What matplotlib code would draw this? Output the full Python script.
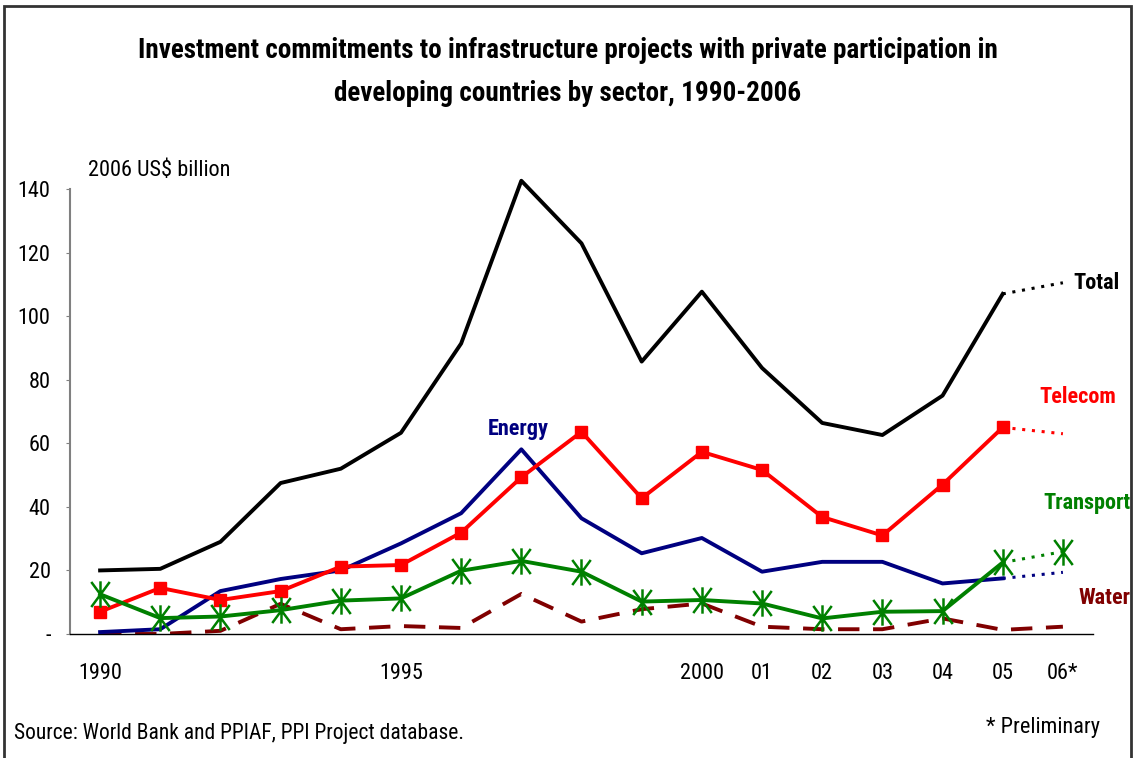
import numpy as np
import matplotlib
matplotlib.use("Agg")
import matplotlib.pyplot as plt
from matplotlib.path import Path
from matplotlib.patches import Rectangle

plt.rcParams['font.family'] = ['Roboto Condensed', 'Liberation Sans', 'DejaVu Sans']

years = np.arange(1990, 2007)
total = [20, 20.5, 29, 47.5, 52, 63.3, 91.4, 142.6, 122.9, 85.7, 107.7, 83.7, 66.4, 62.6, 75, 107, 110.5]
telecom = [7, 14.5, 10.7, 13.5, 21.2, 21.7, 31.9, 49.3, 63.6, 42.7, 57.3, 51.6, 36.8, 31, 47, 65, 63]
energy = [0.6, 1.5, 13.5, 17.3, 20, 28.5, 38, 58.1, 36.4, 25.4, 30.2, 19.6, 22.7, 22.7, 15.9, 17.5, 19.4]
transport = [12.5, 5, 5.5, 7.5, 10.5, 11.2, 19.9, 23, 19.6, 10.2, 10.7, 9.6, 4.9, 7, 7.2, 22.5, 25.9]
water = [0, 0, 1, 9.5, 1.5, 2.5, 1.9, 12.6, 3.9, 7.8, 9.6, 2.3, 1.5, 1.5, 4.9, 1.3, 2.3]

xtick_labels = ["1990", "", "", "", "", "1995", "", "", "", "", "2000", "01", "02", "03", "04", "05", "06*"]
ytick_vals = [0, 20, 40, 60, 80, 100, 120, 140]
ytick_labels = ["-", "20", "40", "60", "80", "100", "120", "140"]

# asterisk marker: vertical bar + tall X
star = Path([(0, -1), (0, 1), (-0.7, -0.95), (0.7, 0.95), (-0.7, 0.95), (0.7, -0.95)],
            [Path.MOVETO, Path.LINETO, Path.MOVETO, Path.LINETO, Path.MOVETO, Path.LINETO])


def main():
    fig = plt.figure(figsize=(11.35, 7.58), dpi=100)
    ax = fig.add_axes([70 / 1135, 124 / 758, 1023 / 1135, 445 / 758])

    lw = 2.8
    dot = (1, 2.2)

    # solid part 1990-2005, dotted 2005-2006
    ax.plot(years[:-1], total[:-1], color="black", lw=lw, clip_on=False, zorder=3)
    ax.plot(years[-2:], total[-2:], color="black", lw=2.2, dashes=dot, clip_on=False)

    ax.plot(years[:-1], energy[:-1], color="#000080", lw=lw, zorder=3)
    ax.plot(years[-2:], energy[-2:], color="#000080", lw=2.2, dashes=dot)

    ax.plot(years, water, color="#800000", lw=lw, dashes=(5.5, 3.5), zorder=2)

    ax.plot(years[:-1], telecom[:-1], color="#ff0000", lw=lw, marker="s", ms=8.5, zorder=4)
    ax.plot(years[-2:], telecom[-2:], color="#ff0000", lw=2.2, dashes=dot, zorder=4)

    ax.plot(years[:-1], transport[:-1], color="#008000", lw=lw, marker=star, ms=19, mew=1.8,
            zorder=5)
    ax.plot(years[-2:], transport[-2:], color="#008000", lw=2.2, dashes=dot, marker=star,
            ms=19, mew=1.8, markevery=[1], zorder=5)

    ax.set_xlim(1989.5, 2006.5)
    ax.set_ylim(0, 140)
    ax.set_xticks(years)
    ax.set_xticklabels(xtick_labels, fontsize=16)
    ax.set_yticks(ytick_vals)
    ax.set_yticklabels(ytick_labels, fontsize=16)
    ax.tick_params(axis="x", length=0, pad=21)
    ax.tick_params(axis="y", length=3, color="#808080", pad=11)

    for s in ["top", "right"]:
        ax.spines[s].set_visible(False)
    ax.spines["left"].set_color("#808080")
    ax.spines["left"].set_linewidth(1.5)
    ax.spines["bottom"].set_color("black")
    ax.spines["bottom"].set_linewidth(1.0)

    # series labels
    lab = dict(fontsize=16, fontweight="bold", va="center", clip_on=False)
    ax.text(2006.17, 110.5, "Total", color="black", ha="left", **lab)
    ax.text(2006.88, 74.5, "Telecom", color="#ff0000", ha="right", **lab)
    ax.text(2007.13, 41.3, "Transport", color="#008000", ha="right", **lab)
    ax.text(2007.13, 11.3, "Water", color="#800000", ha="right", **lab)
    ax.text(1996.45, 64.5, "Energy", color="#000080", ha="left", **lab)

    fig.text(0.5, 0.934, "Investment commitments to infrastructure projects with private participation in",
             ha="center", va="center", fontsize=19.5, fontweight="bold")
    fig.text(0.5, 0.876, "developing countries by sector, 1990-2006",
             ha="center", va="center", fontsize=19.5, fontweight="bold")
    fig.text(88 / 1135, 1 - 170 / 758, "2006 US$ billion", ha="left", va="center", fontsize=16)
    fig.text(14 / 1135, 1 - 733 / 758, "Source: World Bank and PPIAF, PPI Project database.",
             ha="left", va="center", fontsize=15.5)
    fig.text(1100 / 1135, 1 - 728 / 758, "* Preliminary", ha="right", va="center", fontsize=16)

    # outer frame
    fig.patches.append(Rectangle((4 / 1135, -0.05), 1127 / 1135, 1.05 - 6 / 758,
                                 transform=fig.transFigure, fill=False,
                                 edgecolor="#333333", lw=2))

    fig.savefig("out.png", dpi=100)


if __name__ == "__main__":
    main()
